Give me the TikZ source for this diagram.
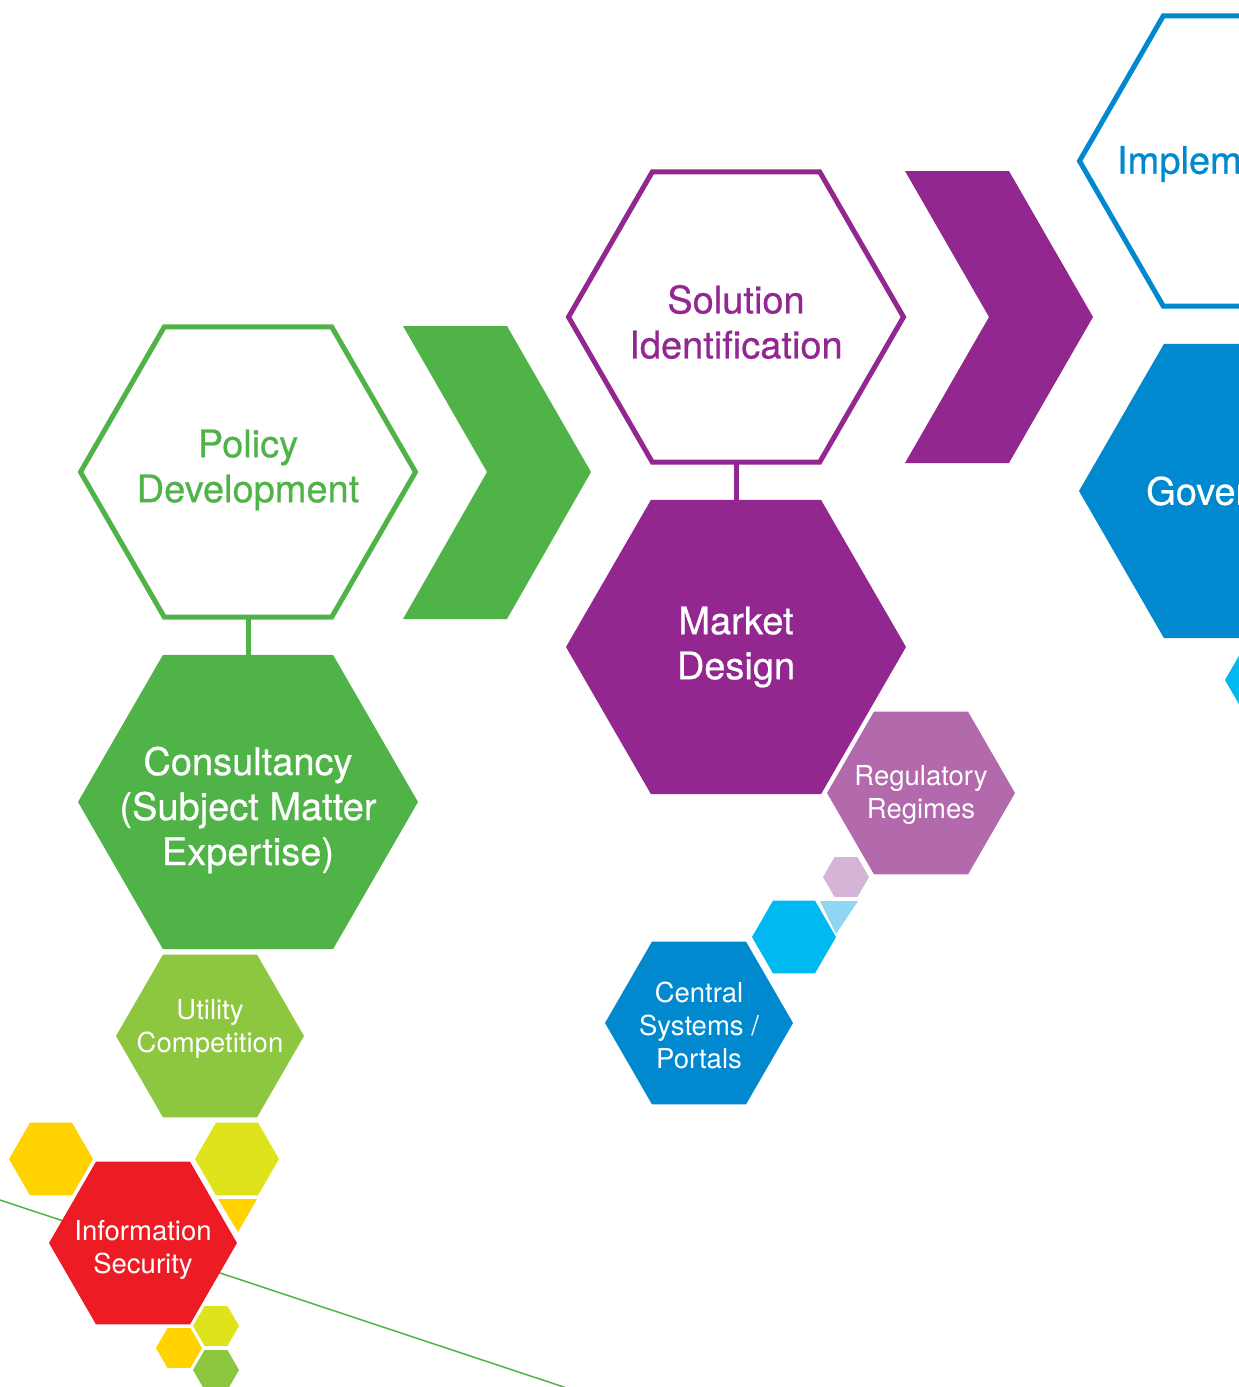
\documentclass[tikz,border=0pt]{standalone}
\usepackage{fontspec}
\setmainfont{TeX Gyre Heros}
\newfontfamily\heromed[FakeBold=0.6]{TeX Gyre Heros}
\usetikzlibrary{shapes.geometric}

\definecolor{polgreen}{RGB}{80,179,72}
\definecolor{lime}{RGB}{141,198,63}
\definecolor{solpurple}{RGB}{146,39,143}
\definecolor{regpurple}{RGB}{179,106,173}
\definecolor{palepurple}{RGB}{213,181,215}
\definecolor{impblue}{RGB}{0,137,207}
\definecolor{hexcyan}{RGB}{0,185,240}
\definecolor{paleblue}{RGB}{143,214,242}
\definecolor{infored}{RGB}{237,28,36}
\definecolor{amber}{RGB}{255,210,0}
\definecolor{limeyellow}{RGB}{223,227,27}

\begin{document}
\begin{tikzpicture}[x=1pt, y=-1pt,
  hex/.style={regular polygon, regular polygon sides=6, inner sep=0pt, outer sep=0pt, minimum size=#1},
  outline/.style={hex=335, draw=#1, line width=5pt},
  big/.style={font=\heromed\fontsize{38}{45}\selectfont, align=center},
  small/.style={font=\fontsize{27.5}{33}\selectfont, align=center, text=white}]

 \useasboundingbox (0,0) rectangle (1239,1387);
 \clip (0,0) rectangle (1239,1387);

 % thin line behind the security cluster
 \draw [polgreen, line width=1.5pt] (0,1200) -- (600,1399);

 % policy column
 \node [outline=polgreen] (policy) at (248,472) {};
 \node [big, text=polgreen, yshift=2pt] (policytxt) at (policy) {Policy\\Development};
 \node [hex=340, fill=polgreen] (consult) at (248,802) {};
 \node [big, text=white, yshift=-8pt] (consulttxt) at (consult) {Consultancy\\(Subject Matter\\Expertise)};
 \draw [polgreen, line width=5pt] (policy.south) -- (consult.north);

 \node [hex=188, fill=lime] (utility) at (210,1036) {};
 \node [small, yshift=7pt] (utilitytxt) at (utility) {Utility\\Competition};

 \node [hex=84, fill=amber] (amberleft) at (51,1159) {};
 \node [hex=84, fill=limeyellow] (limeright) at (237,1159) {};
 \fill [amber] (218,1199) -- (257,1199) -- (238,1232) -- cycle;
 \node [hex=188, fill=infored] (infosec) at (143,1243) {};
 \node [small, yshift=-7pt] (infosectxt) at (infosec) {Information\\Security};
 \node [hex=46, fill=limeyellow] (limesmall) at (216,1326) {};
 \node [hex=46, fill=amber] (ambersmall) at (179,1348) {};
 \node [hex=46, fill=lime] (greensmall) at (216,1370) {};

 \begin{scope}[shift={(403,326)}]
 \fill [polgreen] (0,0) -- (104,0) -- (188,146) -- (104,293) -- (0,293) -- (84,146) -- cycle;
 \end{scope}

 % solution column
 \node [outline=solpurple] (solution) at (736,317) {};
 \node [big, text=solpurple, yshift=-5pt] (solutiontxt) at (solution) {Solution\\Identification};
 \node [hex=340, fill=solpurple] (market) at (736,647) {};
 \node [big, text=white] (markettxt) at (market) {Market\\Design};
 \draw [solpurple, line width=5pt] (solution.south) -- (market.north);

 \node [hex=188, fill=regpurple] (regimes) at (921,793) {};
 \node [small, yshift=-2pt] (regimestxt) at (regimes) {Regulatory\\Regimes};
 \node [hex=46, fill=palepurple] (palesmall) at (846,877) {};
 \fill [paleblue] (820,901) -- (858,901) -- (836,934) -- cycle;
 \node [hex=84, fill=hexcyan] (cyanmid) at (794,937) {};
 \node [hex=188, fill=impblue] (portals) at (699,1023) {};
 \node [small, yshift=-2pt] (portalstxt) at (portals) {Central\\Systems /\\Portals};

 \begin{scope}[shift={(905,171)}]
 \fill [solpurple] (0,0) -- (104,0) -- (188,146) -- (104,292) -- (0,292) -- (84,146) -- cycle;
 \end{scope}

 % implementation column
 \node [outline=impblue] (implement) at (1247,161) {};
 \node [big, text=impblue, yshift=-3pt] (implementtxt) at (implement) {Implementation};
 \node [hex=340, fill=impblue] (govern) at (1249,491) {};
 \node [big, text=white] (governtxt) at (govern) {Governance};
 \node [hex=84, fill=hexcyan] (cyanright) at (1267,680) {};

\end{tikzpicture}
\end{document}
